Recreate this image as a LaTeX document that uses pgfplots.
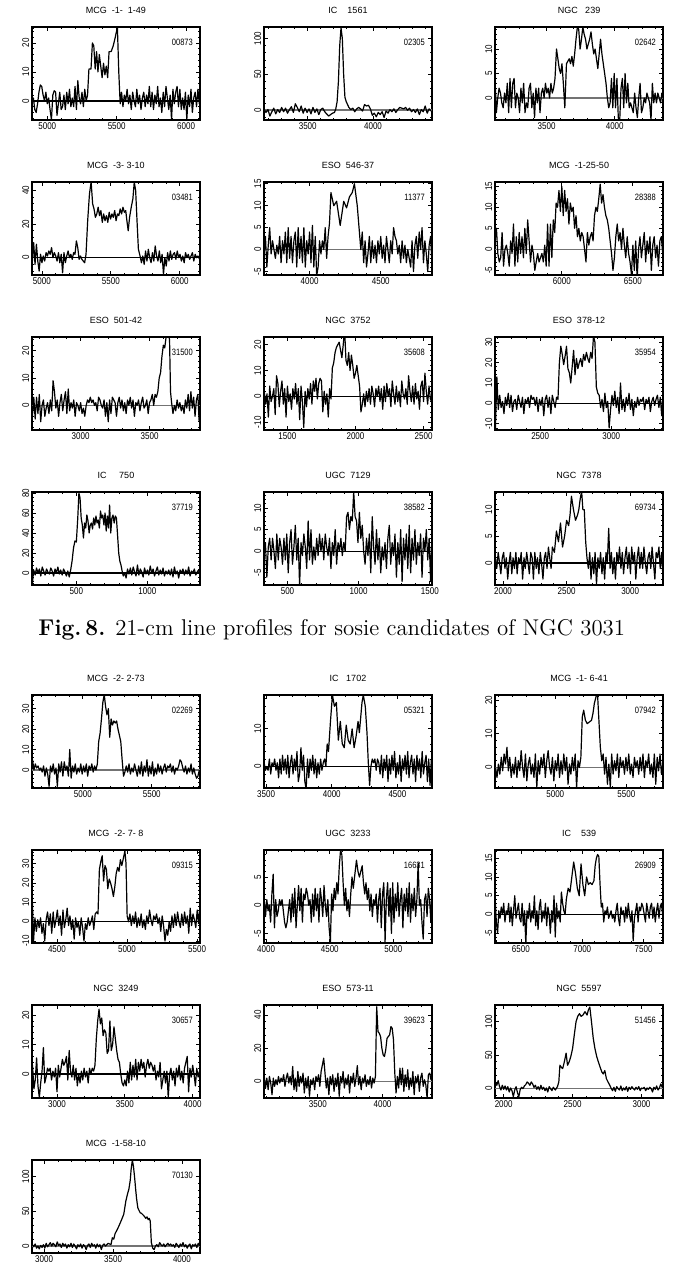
\documentclass[border=0pt]{standalone}
\usepackage{fontspec}
\usepackage{pgfplots}
\pgfplotsset{compat=1.18}
\newfontfamily\pg{Liberation Sans}
\newfontfamily\pgn[FakeStretch=0.82]{Liberation Sans}
\newcommand\pgsize{\pg\fontsize{4.5}{5}\selectfont}
\newcommand\pgnsize{\pgn\fontsize{4.9}{5.5}\selectfont}
\pgfplotsset{
  prof/.style={
    scale only axis, width=84pt, height=46.5pt, anchor=north west,
    axis line style={line width=0.9pt},
    tick style={line width=0.4pt, black},
    major tick length=2.2pt, minor tick length=1.1pt,
    tick align=inside, xtick pos=both, ytick pos=both,
    xtick distance=500, minor x tick num=4, minor y tick num=4,
    scaled ticks=false,
    /pgf/number format/assume math mode=true,
    /pgf/number format/1000 sep={},
    ticklabel style={font=\pgnsize},
    xticklabel style={inner sep=1.2pt},
    yticklabel style={rotate=90, anchor=south, inner sep=1.2pt},
    every axis title/.style={at={(0.5,1)}, anchor=center, yshift=8.5pt, font=\pgsize},
    clip=true,
  },
  sig/.style={black, line width=0.6pt, line join=round, mark=none},
  zk/.style={black, line width=0.7pt, mark=none},
  zg/.style={black!55, line width=0.8pt, mark=none},
}
\tikzset{pn/.style={font=\pgn\fontsize{4.6}{5}\selectfont, anchor=east, inner sep=0pt}}
\newcommand\pnum[1]{\node[pn] at (rel axis cs:0.96,0.83) {#1};}
\begin{document}
\begin{tikzpicture}
\useasboundingbox (0,0) rectangle (340pt,-631pt);

% ---------------- Fig. 8, row 1
\begin{axis}[prof, at={(16pt,-13.5pt)}, xmin=4890, xmax=6100, ymin=-6.6, ymax=25.5, ytick distance=10,
  title={MCG\ \ -1-\ \ 1-49}]
\addplot[zk] coordinates {(4890,0)(6100,0)};
\addplot[sig] coordinates {(4890,-1)(4900,1)(4910,-3)(4920,-4)(4930,-1)(4940,3)(4950,5.5)(4960,5)(4970,2)(4980,0)(4990,3)(5000,-1)(5010,1)(5020,-3)(5030,-6.5)(5040,2)(5050,3.5)(5060,3)(5070,-5)(5080,-1)(5090,3)(5100,-3)(5110,-2)(5120,2)(5130,-3)(5140,3)(5150,-1)(5160,4)(5170,-2)(5180,1)(5190,-2)(5200,5)(5210,-3)(5220,7)(5230,1)(5240,-1)(5250,3)(5260,-2)(5270,4)(5280,0)(5290,2)(5300,11)(5315,11)(5325,20)(5335,19)(5345,11)(5355,17)(5365,10)(5375,16)(5385,12)(5395,8)(5405,13)(5415,9)(5425,12)(5435,8)(5445,17)(5460,17)(5475,19)(5490,22)(5505,25.5)(5515,10)(5525,-1)(5535,3)(5545,-2)(5555,2)(5565,0)(5575,4)(5585,-1)(5595,2)(5605,-3)(5615,3)(5625,0)(5635,-2)(5645,4)(5655,-1)(5665,2)(5675,-3)(5685,1)(5695,3)(5705,-2)(5715,2)(5725,-1)(5735,5)(5745,-2)(5755,3)(5765,-3)(5775,2)(5785,-1)(5795,5)(5805,-2)(5815,1)(5825,-4)(5835,3)(5845,-2)(5855,5)(5865,1)(5875,-3)(5885,2)(5895,-6.5)(5905,4)(5915,-1)(5925,3)(5935,5)(5945,-2)(5955,4)(5965,-3)(5975,1)(5985,-3)(5995,3)(6005,-6.5)(6015,2)(6025,-2)(6035,4)(6045,-4)(6055,1)(6065,3)(6075,-2)(6085,4)(6095,-1)};
\pnum{00873}
\end{axis}

\begin{axis}[prof, at={(132pt,-13.5pt)}, xmin=3165, xmax=4452, ymin=-13.5, ymax=116, ytick distance=50,
  title={IC\ \ \ \ 1561}]
\addplot[zg] coordinates {(3165,0)(4452,0)};
\addplot[sig] coordinates {(3165,2)(3180,-3)(3195,1)(3210,-8)(3225,-2)(3240,3)(3255,-5)(3270,1)(3285,-3)(3300,4)(3315,-2)(3330,3)(3345,-4)(3360,1)(3375,5)(3390,-3)(3405,9)(3420,4)(3435,-2)(3450,6)(3465,-4)(3480,3)(3495,-3)(3510,2)(3525,-5)(3540,4)(3555,-3)(3570,2)(3585,-6)(3600,1)(3615,3)(3630,-2)(3645,-5)(3660,-8)(3675,-6)(3690,-4)(3705,-3)(3715,2)(3725,12)(3735,40)(3745,90)(3755,115)(3765,100)(3775,50)(3785,18)(3795,12)(3805,8)(3815,4)(3830,1)(3845,3)(3860,-2)(3875,2)(3890,4)(3905,2)(3920,-1)(3935,8)(3950,6)(3965,7)(3980,2)(3995,-7)(4010,-4)(4025,-9)(4040,-3)(4055,-6)(4070,-2)(4085,-10)(4100,-1)(4115,-4)(4130,1)(4145,-2)(4160,2)(4175,-3)(4190,1)(4205,4)(4220,3)(4235,2)(4250,4)(4265,0)(4280,3)(4295,-2)(4310,1)(4325,-3)(4340,2)(4355,-6)(4370,1)(4385,-2)(4400,6)(4415,-4)(4430,2)(4445,-1)};
\pnum{02305}
\end{axis}

\begin{axis}[prof, at={(247.5pt,-13.5pt)}, xmin=3122, xmax=4354, ymin=-4.5, ymax=14.5, ytick distance=5,
  title={NGC\ \ \ 239}]
\addplot[zg] coordinates {(3122,0)(4354,0)};
\addplot[sig] coordinates {(3122,4)(3132,-3)(3142,0)(3152,2)(3162,1)(3172,-1)(3182,-2)(3192,1)(3202,-1)(3212,3)(3222,-3)(3232,4)(3242,-2)(3252,3)(3262,4)(3272,-2)(3282,1)(3292,0)(3302,-3)(3312,2)(3322,-1)(3332,3)(3342,-3)(3352,-1)(3362,-2)(3372,2)(3382,3)(3392,-2)(3402,1)(3412,-4)(3422,2)(3432,-1)(3442,2)(3452,-3)(3462,1)(3472,2)(3482,0)(3492,3)(3502,1)(3512,2)(3522,0)(3532,3)(3542,1)(3552,2)(3562,4)(3573,10)(3583,8)(3593,6)(3603,5)(3613,7)(3623,3)(3634,-2)(3646,7)(3656,7.5)(3666,8)(3676,7)(3686,8.5)(3696,6.5)(3706,9)(3716,12)(3726,14.5)(3736,14)(3746,10)(3756,12)(3766,14.5)(3776,13)(3786,12)(3796,10)(3806,11)(3816,12)(3826,13.5)(3836,11)(3846,9)(3856,10)(3866,8)(3876,6)(3886,9)(3896,12)(3906,9)(3916,7)(3926,5)(3936,3)(3946,0)(3956,-2)(3966,-1)(3976,4)(3986,-2)(3996,5)(4006,-2)(4016,4)(4026,-4)(4036,-5)(4046,2)(4056,4)(4066,-2)(4076,5)(4086,-1)(4096,3)(4106,-2)(4116,-1)(4126,-2)(4136,-3)(4146,1)(4156,-2)(4166,-4)(4176,0)(4186,3)(4196,-3)(4206,-2)(4216,0)(4226,-1)(4236,1)(4246,0)(4256,-1)(4266,-4.5)(4276,3)(4286,-1)(4296,1)(4306,-1)(4316,1)(4326,0)(4336,-1)(4346,1)(4354,0)};
\pnum{02642}
\end{axis}

% ---------------- Fig. 8, row 2
\begin{axis}[prof, at={(16pt,-91pt)}, xmin=4928, xmax=6147, ymin=-10.3, ymax=45, ytick distance=20,
  title={MCG\ \ -3-\ 3-10}]
\addplot[zk] coordinates {(4928,0)(6147,0)};
\addplot[sig] coordinates {(4930,-3)(4940,9)(4950,-4)(4960,8)(4970,-2)(4980,-8)(4990,2)(5000,-3)(5010,1)(5020,-2)(5030,3)(5040,1)(5050,4)(5060,2)(5070,6)(5080,0)(5090,3)(5100,1)(5110,-2)(5120,3)(5130,-3)(5140,2)(5150,-9)(5160,3)(5170,-3)(5180,1)(5190,4)(5200,0)(5210,2)(5220,-1)(5230,3)(5240,2)(5250,10)(5260,6)(5270,-1)(5280,1)(5290,-1)(5300,-2)(5310,-3)(5320,2)(5332,22)(5345,38)(5357,45)(5368,32)(5378,29)(5388,24)(5398,26)(5408,30)(5418,25)(5428,28)(5438,21)(5448,26)(5458,22)(5468,25)(5478,21)(5488,27)(5498,23)(5508,26)(5518,24)(5528,28)(5538,22)(5548,26)(5558,25)(5568,29)(5578,26)(5588,30)(5598,27)(5608,28)(5618,21)(5626,16)(5636,24)(5648,30)(5660,35)(5670,45)(5680,40)(5690,22)(5700,5)(5712,1)(5722,-3)(5732,1)(5742,-4)(5752,4)(5762,-2)(5772,5)(5782,0)(5792,-3)(5802,3)(5812,-2)(5822,7)(5832,1)(5842,-2)(5852,4)(5862,-3)(5872,2)(5882,-10)(5892,0)(5902,-5)(5912,3)(5922,-2)(5932,4)(5942,-1)(5952,2)(5962,3)(5972,-1)(5982,4)(5992,0)(6002,2)(6012,-2)(6022,1)(6032,-3)(6042,3)(6052,0)(6062,2)(6072,-1)(6082,1)(6092,3)(6102,-2)(6112,2)(6122,0)(6132,1)(6145,-1)};
\pnum{03481}
\end{axis}

\begin{axis}[prof, at={(132pt,-91pt)}, xmin=3680, xmax=4860, ymin=-5.8, ymax=15.4, ytick distance=5,
  title={ESO\ \ 546-37}]
\addplot[zg] coordinates {(3680,0)(4860,0)};
\addplot[sig] coordinates {(3680,-1)(3690,3)(3700,-4)(3710,1)(3720,5)(3730,-1)(3740,2)(3750,0)(3760,-2)(3770,1)(3780,-1)(3790,3)(3800,-3)(3810,2)(3820,-1)(3830,4)(3840,-3)(3850,5)(3860,-2)(3870,3)(3880,-3)(3890,2)(3900,4)(3910,-4)(3920,5)(3930,-2)(3940,3)(3950,-3)(3960,5)(3970,-4)(3980,2)(3990,-1)(4000,4)(4010,-3)(4020,5.5)(4030,-4)(4040,3)(4050,-6)(4060,-4)(4070,2)(4080,-1)(4090,2)(4100,0)(4110,5)(4120,-2)(4130,3)(4140,6)(4150,13)(4170,10)(4190,11)(4215,5.5)(4240,11)(4260,9.5)(4280,12)(4300,13)(4315,15)(4335,10)(4360,0)(4370,4)(4380,-3)(4390,2)(4400,-4)(4410,-1)(4420,3)(4430,-3)(4440,2)(4450,-2)(4460,1)(4470,-3)(4480,2)(4490,-1)(4500,3)(4510,-2)(4520,1)(4530,-3)(4540,3)(4550,0)(4560,-3)(4570,2)(4580,-1)(4590,5)(4600,3)(4610,2)(4620,-1)(4630,1)(4640,-3)(4650,2)(4660,-2)(4670,1)(4680,-3)(4690,0)(4700,-2)(4710,-4)(4720,2)(4730,-5)(4740,1)(4750,3)(4760,-2)(4770,4)(4780,0)(4790,5)(4800,-3)(4810,2)(4820,-1)(4830,-5)(4840,1)(4850,3)(4858,-2)};
\pnum{11377}
\end{axis}

\begin{axis}[prof, at={(247.5pt,-91pt)}, xmin=5530, xmax=6712, ymin=-6.1, ymax=16, ytick distance=5,
  title={MCG\ \ -1-25-50}]
\addplot[zg] coordinates {(5530,0)(6712,0)};
\addplot[sig] coordinates {(5530,2)(5540,5)(5550,-1)(5560,-3)(5570,-2)(5580,4)(5590,-4)(5600,0)(5610,1)(5620,-1)(5630,-4)(5640,2)(5650,-1)(5660,6)(5670,-4)(5680,3)(5690,-3)(5700,4)(5710,-1)(5720,3)(5730,-2)(5740,5)(5750,-1)(5760,7)(5770,2)(5780,-3)(5790,1)(5800,-1)(5810,-5)(5820,-3)(5830,-1)(5840,-3)(5850,-2)(5860,-1)(5870,-3)(5880,1)(5890,-4)(5900,6)(5910,-4)(5920,6)(5930,-2)(5940,7)(5950,4)(5960,11)(5970,10)(5980,14)(5990,9)(6000,15)(6010,8)(6020,14)(6030,9)(6040,12)(6050,6)(6060,11)(6070,9)(6080,10)(6090,5)(6100,8)(6110,3)(6120,5)(6130,2)(6140,4)(6150,3)(6160,0)(6170,-3)(6180,4)(6190,1)(6200,3)(6210,4)(6220,2)(6230,8)(6240,10)(6250,9)(6260,12)(6270,15.5)(6280,11)(6290,13)(6300,10)(6310,8)(6320,7)(6330,5)(6340,2)(6350,-1)(6360,-5)(6370,-2)(6380,3)(6390,6)(6400,2)(6410,4)(6420,0)(6430,5)(6440,1)(6450,-2)(6460,3)(6470,-1)(6480,-3)(6490,-6)(6500,1)(6510,-5)(6520,2)(6530,-7)(6540,0)(6550,3)(6560,-2)(6570,1)(6580,4)(6590,-3)(6600,2)(6610,-1)(6620,3)(6630,-5)(6640,1)(6650,3)(6660,-2)(6670,1)(6680,-4)(6690,2)(6700,3)(6710,-1)};
\pnum{28388}
\end{axis}

% ---------------- Fig. 8, row 3
\begin{axis}[prof, at={(16pt,-168.5pt)}, xmin=2647, xmax=3866, ymin=-9, ymax=25, ytick distance=10,
  title={ESO\ \ 501-42}]
\addplot[zg] coordinates {(2647,0)(3866,0)};
\addplot[sig] coordinates {(2650,-4)(2660,3)(2670,-5)(2680,3)(2690,-3)(2700,4)(2710,-6)(2720,0)(2730,2)(2740,-4)(2750,-1)(2760,1)(2770,-3)(2780,2)(2790,-2)(2800,9)(2810,5)(2820,-1)(2830,2)(2840,-4)(2850,1)(2860,4)(2870,-2)(2880,2)(2890,5)(2900,-3)(2910,6)(2920,-2)(2930,1)(2940,-1)(2950,2)(2960,-4)(2970,1)(2980,0)(2990,-2)(3000,1)(3010,-3)(3020,-1)(3030,-4)(3040,0)(3050,2)(3060,1)(3070,3)(3080,1)(3090,2)(3100,0)(3110,1)(3120,-2)(3130,3)(3140,2)(3150,0)(3160,-1)(3170,2)(3180,-4)(3190,1)(3200,-6)(3210,2)(3220,-3)(3230,3)(3240,2)(3250,1)(3260,-4)(3270,1)(3280,3)(3290,-1)(3300,2)(3310,-2)(3320,1)(3330,-3)(3340,2)(3350,0)(3360,3)(3370,-1)(3380,2)(3390,-4)(3400,1)(3410,0)(3420,2)(3430,-2)(3440,1)(3450,3)(3460,-1)(3470,0)(3480,2)(3490,-3)(3500,1)(3510,2)(3520,4)(3530,0)(3540,4)(3550,3)(3560,5)(3570,10)(3580,12)(3590,18)(3600,22)(3610,21)(3620,25)(3630,25.5)(3638,26)(3645,24)(3652,5)(3660,1)(3670,-3)(3680,0)(3690,-2)(3700,2)(3710,-1)(3720,1)(3730,-2)(3740,0)(3750,-3)(3760,2)(3770,-1)(3780,4)(3790,-2)(3800,5)(3810,-1)(3820,3)(3830,-4)(3840,2)(3850,4)(3860,-6)};
\pnum{31500}
\end{axis}

\begin{axis}[prof, at={(132pt,-168.5pt)}, xmin=1328, xmax=2562, ymin=-13, ymax=23, ytick distance=10,
  title={NGC\ \ 3752}]
\addplot[zk] coordinates {(1328,0)(2562,0)};
\addplot[sig] coordinates {(1330,2)(1340,-3)(1350,1)(1360,-8)(1370,4)(1380,-2)(1390,0)(1400,3)(1410,-7)(1420,8)(1430,5)(1440,-4)(1450,2)(1460,6)(1470,-3)(1480,3)(1490,-8)(1500,4)(1510,-2)(1520,1)(1530,-5)(1540,3)(1550,-1)(1560,5)(1570,-3)(1580,3)(1590,-9)(1600,4)(1610,-2)(1620,-12)(1630,2)(1640,-4)(1650,3)(1660,-1)(1670,5)(1680,-3)(1690,6)(1700,2)(1710,7)(1720,-1)(1730,5)(1740,7)(1750,6)(1760,-6)(1770,2)(1780,-3)(1790,1)(1800,-8)(1810,3)(1820,-1)(1830,11)(1840,13)(1850,17)(1860,19)(1870,20)(1880,21)(1890,18)(1900,15)(1910,20)(1920,26)(1930,14)(1940,12)(1950,17)(1960,10)(1970,16)(1980,12)(1990,7)(2000,9)(2010,12)(2020,8)(2030,4)(2040,-6)(2050,-3)(2060,1)(2070,-4)(2080,2)(2090,-2)(2100,3)(2110,-3)(2120,4)(2130,1)(2140,-4)(2150,3)(2160,0)(2170,4)(2180,-2)(2190,3)(2200,-5)(2210,4)(2220,-2)(2230,5)(2240,0)(2250,3)(2260,-4)(2270,6)(2280,1)(2290,-3)(2300,4)(2310,-2)(2320,2)(2330,-4)(2340,6)(2350,1)(2360,-1)(2370,3)(2380,-3)(2390,8)(2400,2)(2410,-2)(2420,4)(2430,-3)(2440,5)(2450,-1)(2460,2)(2470,-5)(2480,4)(2490,6)(2500,-2)(2510,9)(2520,2)(2530,-3)(2540,4)(2550,-1)(2560,-2)};
\pnum{35608}
\end{axis}

\begin{axis}[prof, at={(247.5pt,-168.5pt)}, xmin=2182, xmax=3364, ymin=-13, ymax=32.5, ytick distance=10,
  title={ESO\ \ 378-12}]
\addplot[zk] coordinates {(2182,0)(3364,0)};
\addplot[sig] coordinates {(2185,-12)(2195,13)(2205,-3)(2215,4)(2225,-2)(2235,1)(2245,-5)(2255,3)(2265,-1)(2275,5)(2285,-2)(2295,4)(2305,-4)(2315,1)(2325,2)(2335,-3)(2345,4)(2355,1)(2365,-2)(2375,3)(2385,-5)(2395,2)(2405,0)(2415,3)(2425,-2)(2435,4)(2445,2)(2455,3)(2465,-1)(2475,3)(2485,-4)(2495,2)(2505,-1)(2515,3)(2525,-6)(2535,2)(2545,4)(2555,-2)(2565,3)(2575,-5)(2585,4)(2595,1)(2605,-2)(2615,3)(2625,2)(2635,20)(2645,28)(2655,24)(2665,19)(2675,23)(2685,28)(2695,17)(2705,15)(2715,10)(2725,18)(2735,26)(2745,14)(2755,22)(2765,17)(2775,20)(2785,22)(2795,18)(2805,24)(2815,21)(2825,25)(2835,22)(2845,20)(2855,25)(2865,22)(2875,33)(2885,30)(2895,8)(2905,5)(2915,4)(2925,-2)(2935,2)(2945,-4)(2955,5)(2965,-2)(2975,1)(2985,-12)(2995,-3)(3005,4)(3015,-1)(3025,6)(3035,-2)(3045,3)(3055,-5)(3065,10)(3075,-3)(3085,2)(3095,-4)(3105,3)(3115,-1)(3125,5)(3135,-3)(3145,2)(3155,-6)(3165,1)(3175,-2)(3185,3)(3195,-1)(3205,2)(3215,1)(3225,3)(3235,-3)(3245,2)(3255,0)(3265,3)(3275,-4)(3285,1)(3295,3)(3305,-1)(3315,2)(3325,4)(3335,-2)(3345,3)(3355,-6)(3362,2)};
\pnum{35954}
\end{axis}

% ---------------- Fig. 8, row 4
\begin{axis}[prof, at={(16pt,-246pt)}, xmin=188, xmax=1370, ymin=-12, ymax=81, ytick distance=20,
  title={IC\ \ \ \ \ 750}]
\addplot[zk] coordinates {(188,0)(1370,0)};
\addplot[sig] coordinates {(190,-12)(200,3)(210,-2)(220,5)(230,0)(240,4)(250,-3)(260,6)(270,2)(280,-2)(290,4)(300,1)(310,-1)(320,5)(330,2)(340,-3)(350,4)(360,0)(370,6)(380,-1)(390,3)(400,-2)(410,4)(420,1)(430,-3)(440,2)(450,-4)(460,3)(470,12)(480,25)(490,32)(500,31)(510,55)(518,80)(526,75)(534,55)(542,48)(550,35)(558,50)(566,45)(574,58)(582,52)(590,40)(598,48)(606,50)(614,44)(622,55)(630,48)(638,57)(646,50)(654,53)(662,45)(670,62)(678,55)(686,58)(694,48)(702,60)(710,42)(718,57)(726,45)(734,68)(742,40)(750,55)(758,58)(766,50)(774,57)(782,55)(790,38)(798,20)(806,12)(814,8)(822,2)(830,-3)(840,0)(850,-5)(860,4)(870,-1)(880,5)(890,-2)(900,6)(910,1)(920,-3)(930,8)(940,-2)(950,4)(960,1)(970,-4)(980,5)(990,-1)(1000,3)(1010,-2)(1020,7)(1030,0)(1040,4)(1050,-3)(1060,2)(1070,6)(1080,-2)(1090,3)(1100,-1)(1110,5)(1120,-3)(1130,2)(1140,-1)(1150,3)(1160,-2)(1170,4)(1180,-4)(1190,6)(1200,-1)(1210,2)(1220,-5)(1230,3)(1240,0)(1250,4)(1260,-2)(1270,3)(1280,-1)(1290,6)(1300,-3)(1310,2)(1320,0)(1330,4)(1340,-2)(1350,1)(1360,3)(1368,0)};
\pnum{37719}
\end{axis}

\begin{axis}[prof, at={(132pt,-246pt)}, xmin=335, xmax=1515, ymin=-7.8, ymax=13.7, ytick distance=5,
  title={UGC\ \ 7129}]
\addplot[zk] coordinates {(335,0)(1515,0)};
\addplot[sig] coordinates {(335,-1)(345,2)(355,-6)(365,1)(375,3)(385,-2)(395,3)(405,0)(415,-4)(425,4)(435,-2)(445,3)(455,1)(465,-3)(475,3)(485,-2)(495,4)(505,-5)(515,2)(525,5)(535,-3)(545,1)(555,6)(565,-2)(575,3)(585,-8)(595,2)(605,-1)(615,4)(625,1)(635,-4)(645,7)(655,-2)(665,5)(675,-3)(685,1)(695,-2)(705,3)(715,-1)(725,4)(735,0)(745,3)(755,-2)(765,4)(775,1)(785,-1)(795,3)(805,-4)(815,2)(825,-1)(835,5)(845,-3)(855,2)(865,0)(875,3)(885,-1)(895,2)(905,0)(915,8)(925,9)(935,5)(945,8)(955,7)(965,13.7)(975,8)(985,7)(995,2)(1005,9)(1015,3)(1025,6)(1035,0)(1045,-3)(1055,3)(1065,-1)(1075,4)(1085,-5)(1095,8)(1105,1)(1115,-3)(1125,5)(1135,-2)(1145,3)(1155,-5)(1165,1)(1175,-2)(1185,2)(1195,-4)(1205,3)(1215,6)(1225,-3)(1235,2)(1245,-1)(1255,4)(1265,-6)(1275,2)(1285,-3)(1295,5)(1305,-7)(1315,3)(1325,-2)(1335,4)(1345,-4)(1355,6)(1365,-5)(1375,3)(1385,-2)(1395,5)(1405,-3)(1415,2)(1425,-1)(1435,4)(1445,-6)(1455,3)(1465,0)(1475,5)(1485,-2)(1495,3)(1505,-7)(1513,2)};
\pnum{38582}
\end{axis}

\begin{axis}[prof, at={(247.5pt,-246pt)}, xmin=1937, xmax=3258, ymin=-4.1, ymax=13.3, ytick distance=5,
  title={NGC\ \ 7378}]
\addplot[zk] coordinates {(1937,0)(3258,0)};
\addplot[sig] coordinates {(1940,1)(1951,-1)(1962,2)(1973,0)(1983,-2)(1994,1)(2005,2)(2015,-1)(2026,1)(2037,-3)(2047,0)(2058,2)(2069,-2)(2079,1)(2090,-1)(2101,2)(2111,-2)(2122,1)(2133,0)(2143,2)(2154,-3)(2165,1)(2175,-1)(2186,2)(2197,0)(2207,-2)(2218,2)(2229,1)(2239,-3)(2250,2)(2261,-1)(2271,1)(2282,-2)(2293,2)(2303,0)(2314,-3)(2325,1)(2335,2)(2346,-1)(2357,3)(2367,1)(2378,-1)(2388,3)(2404,2)(2420,6)(2436,4)(2452,7.5)(2468,3)(2484,5)(2500,8)(2516,7)(2527,9)(2538,12.5)(2554,10)(2570,8)(2586,9)(2596,10)(2607,12)(2618,13.5)(2628,10)(2639,10)(2650,4)(2660,1)(2671,-1)(2682,2)(2692,-3)(2703,1)(2714,-2)(2724,2)(2735,-4)(2746,1)(2756,-1)(2767,2)(2778,-2)(2788,1)(2799,-3)(2810,2)(2820,0)(2831,6.5)(2842,-1)(2852,2)(2863,-2)(2874,1)(2884,-3)(2895,2)(2906,0)(2916,3)(2927,-1)(2938,2)(2948,-2)(2959,1)(2970,3)(2980,-1)(2991,2)(3002,-2)(3012,3)(3023,0)(3034,2)(3044,-3)(3055,1)(3066,3)(3076,-1)(3087,2)(3098,-1)(3108,3)(3119,0)(3130,-2)(3140,1)(3151,2)(3162,-1)(3172,3)(3183,0)(3194,-3)(3204,2)(3215,1)(3226,3)(3236,-1)(3247,2)(3256,-2)};
\pnum{69734}
\end{axis}

\node[anchor=base west, inner sep=0pt, font=\fontsize{11.4}{13}\selectfont] at (19pt,-317.5pt)
  {\textbf{Fig.\,8.} 21-cm line profiles for sosie candidates of NGC 3031};

% ---------------- second figure, row 1
\begin{axis}[prof, at={(16pt,-347.5pt)}, xmin=4631, xmax=5850, ymin=-8.8, ymax=36.7, ytick distance=10,
  title={MCG\ \ -2-\ 2-73}]
\addplot[zg] coordinates {(4631,0)(5850,0)};
\addplot[sig] coordinates {(4635,5)(4645,0)(4655,3)(4665,1)(4675,2)(4685,0)(4695,1)(4705,-1)(4715,2)(4725,-3)(4735,1)(4745,-2)(4755,-8)(4765,2)(4775,-1)(4785,3)(4795,-2)(4805,1)(4815,-8)(4825,3)(4835,-1)(4845,4)(4855,-3)(4865,4)(4875,0)(4885,2)(4895,-3)(4905,10)(4915,-4)(4925,2)(4935,-1)(4945,3)(4955,-2)(4965,1)(4975,-1)(4985,3)(4995,-2)(5005,2)(5015,-1)(5025,3)(5035,-3)(5045,2)(5055,0)(5065,3)(5075,-1)(5085,2)(5095,0)(5105,3)(5115,14)(5125,18)(5135,25)(5145,33)(5155,37)(5165,31)(5175,27)(5185,30)(5195,16)(5205,25)(5215,22)(5225,24)(5235,23)(5245,24)(5255,20)(5265,17)(5275,14)(5285,5)(5295,-3)(5305,-1)(5315,2)(5325,-1)(5335,3)(5345,-2)(5355,1)(5365,-1)(5375,3)(5385,0)(5395,-3)(5405,2)(5415,-2)(5425,4)(5435,-3)(5445,2)(5455,-1)(5465,5)(5475,-3)(5485,2)(5495,-2)(5505,4)(5515,-3)(5525,1)(5535,-2)(5545,3)(5555,-1)(5565,2)(5575,-2)(5585,1)(5595,3)(5605,-1)(5615,2)(5625,1)(5635,3)(5645,-1)(5655,2)(5665,-2)(5675,1)(5685,0)(5695,2)(5705,5)(5715,4)(5725,1)(5735,-1)(5745,2)(5755,-2)(5765,1)(5775,-1)(5785,3)(5795,-2)(5805,1)(5815,-2)(5825,-4)(5835,-3)(5845,0)};
\pnum{02269}
\end{axis}

\begin{axis}[prof, at={(132pt,-347.5pt)}, xmin=3484, xmax=4763, ymin=-5.7, ymax=19, ytick distance=10,
  title={IC\ \ \ 1702}]
\addplot[zk] coordinates {(3484,0)(4763,0)};
\addplot[sig] coordinates {(3485,1)(3495,-1)(3505,0)(3515,-1)(3525,2)(3535,-2)(3545,1)(3555,0)(3565,2)(3575,-1)(3585,1)(3595,-3)(3605,2)(3615,-2)(3625,3)(3635,-1)(3645,2)(3655,-2)(3665,3)(3675,-3)(3685,1)(3695,3)(3705,-2)(3715,2)(3725,-1)(3735,4)(3745,-4)(3755,-2)(3765,5)(3775,-1)(3785,3)(3795,-4)(3805,-6)(3815,2)(3825,-3)(3835,2)(3845,-1)(3855,3)(3865,-2)(3875,2)(3885,-3)(3895,1)(3905,-2)(3915,2)(3925,-1)(3935,1)(3945,2)(3955,0)(3965,6)(3975,4)(3990,12)(4005,19)(4020,16)(4035,17)(4050,7)(4065,12)(4080,6)(4095,5)(4110,11)(4125,7)(4140,6)(4155,10)(4170,5)(4185,8)(4200,12)(4210,9)(4220,13)(4230,17)(4240,19)(4255,16)(4268,9)(4278,1)(4288,-5)(4298,0)(4308,2)(4318,1)(4328,2)(4338,-1)(4348,2)(4358,1)(4368,-2)(4378,3)(4388,-3)(4398,2)(4408,-1)(4418,3)(4428,-4)(4438,2)(4448,-2)(4458,3)(4468,-1)(4478,4)(4488,-3)(4498,1)(4508,-2)(4518,3)(4528,-4)(4538,2)(4548,-1)(4558,3)(4568,-2)(4578,4)(4588,-3)(4598,1)(4608,3)(4618,-2)(4628,2)(4638,-4)(4648,3)(4658,-1)(4668,2)(4678,-3)(4688,4)(4698,-2)(4708,1)(4718,3)(4728,-4)(4738,2)(4748,-5)(4758,2)};
\pnum{05321}
\end{axis}

\begin{axis}[prof, at={(247.5pt,-347.5pt)}, xmin=4576, xmax=5758, ymin=-6.1, ymax=21.5, ytick distance=10,
  title={MCG\ \ -1-\ 6-41}]
\addplot[zg] coordinates {(4576,0)(5758,0)};
\addplot[sig] coordinates {(4580,0)(4590,-3)(4600,1)(4610,-2)(4620,3)(4630,-1)(4640,4)(4650,1)(4660,6)(4670,-1)(4680,3)(4690,-3)(4700,1)(4710,-2)(4720,3)(4730,-3)(4740,2)(4750,-1)(4760,5)(4770,0)(4780,-3)(4790,4)(4800,-4)(4810,1)(4820,3)(4830,-2)(4840,1)(4850,-3)(4860,4)(4870,-6)(4880,2)(4890,-2)(4900,3)(4910,0)(4920,4)(4930,-3)(4940,2)(4950,5)(4960,0)(4970,-2)(4980,3)(4990,-4)(5000,2)(5010,-1)(5020,4)(5030,-3)(5040,2)(5050,-2)(5060,4)(5070,-1)(5080,3)(5090,-5)(5100,1)(5110,-2)(5120,3)(5130,-1)(5140,4)(5150,-6)(5160,2)(5170,0)(5180,3)(5190,15)(5200,17)(5212,14)(5225,13)(5240,13.5)(5255,14)(5265,16)(5275,19)(5287,21)(5297,22)(5307,14)(5317,6)(5327,2)(5337,4)(5347,-2)(5357,3)(5367,-5)(5377,1)(5387,-6)(5397,4)(5407,-2)(5417,2)(5427,-1)(5437,4)(5447,-3)(5457,3)(5467,0)(5477,2)(5487,-2)(5497,3)(5507,-1)(5517,4)(5527,-2)(5537,1)(5547,-3)(5557,3)(5567,0)(5577,2)(5587,-2)(5597,3)(5607,-1)(5617,4)(5627,-3)(5637,2)(5647,0)(5657,4)(5667,-2)(5677,1)(5687,-3)(5697,4)(5707,-5)(5717,3)(5727,-1)(5737,4)(5747,-2)(5756,1)};
\pnum{07942}
\end{axis}

% ---------------- second figure, row 2
\begin{axis}[prof, at={(16pt,-425pt)}, xmin=4322, xmax=5521, ymin=-11, ymax=37, ytick distance=10,
  title={MCG\ \ -2-\ 7-\ 8}]
\addplot[zk] coordinates {(4322,0)(5521,0)};
\addplot[sig] coordinates {(4325,10)(4333,-10)(4343,2)(4353,-5)(4363,1)(4373,-3)(4383,2)(4393,-6)(4403,-1)(4413,-10)(4423,1)(4433,5)(4443,-2)(4453,4)(4463,-6)(4473,5)(4483,-3)(4493,1)(4503,6)(4513,-2)(4523,3)(4533,-7)(4543,6)(4553,-3)(4563,1)(4573,7)(4583,-2)(4593,3)(4603,-4)(4613,1)(4623,-9)(4633,2)(4643,-3)(4653,0)(4663,-7)(4673,2)(4683,-3)(4693,-10)(4703,-1)(4713,-4)(4723,2)(4733,-2)(4743,0)(4753,3)(4763,-4)(4773,4)(4783,5)(4793,4)(4803,27)(4813,31)(4823,34)(4833,21)(4843,29)(4853,27)(4863,17)(4873,22)(4883,20)(4893,17)(4903,13)(4913,18)(4923,25)(4933,28)(4943,26)(4953,32)(4963,29)(4975,33)(4985,36.5)(4993,30)(5001,3)(5011,0)(5021,4)(5031,-2)(5041,3)(5051,-1)(5061,5)(5071,-3)(5081,2)(5091,-2)(5101,4)(5111,-3)(5121,1)(5131,-4)(5141,3)(5151,-1)(5161,6)(5171,1)(5181,-2)(5191,3)(5201,1)(5211,4)(5221,-1)(5231,2)(5241,-5)(5251,3)(5261,-2)(5271,-10)(5281,-4)(5291,-7)(5301,0)(5311,-5)(5321,3)(5331,-3)(5341,4)(5351,-2)(5361,5)(5371,0)(5381,-3)(5391,4)(5401,-2)(5411,5)(5421,-1)(5431,3)(5441,-6)(5451,7)(5461,-2)(5471,4)(5481,1)(5491,-3)(5501,6)(5511,-1)(5520,8)};
\pnum{09315}
\end{axis}

\begin{axis}[prof, at={(132pt,-425pt)}, xmin=3983, xmax=5304, ymin=-6.7, ymax=9.8, ytick distance=5,
  title={UGC\ \ 3233}]
\addplot[zg] coordinates {(3983,0)(5304,0)};
\addplot[sig] coordinates {(3985,1)(3995,-2)(4005,1)(4015,-1)(4025,0)(4035,-3)(4045,2)(4055,5.5)(4065,-4)(4075,1)(4085,-2)(4095,-1)(4105,1)(4115,0)(4125,1)(4135,-1)(4145,-3)(4155,-4)(4165,-3)(4175,-1)(4185,1)(4195,-3)(4205,2)(4215,-2)(4225,3)(4235,-4)(4245,0)(4255,3.5)(4265,-1)(4275,3)(4285,-3)(4295,2)(4305,1)(4315,3)(4325,2)(4335,0)(4345,1)(4355,-3)(4365,2)(4375,-2)(4385,3)(4395,-1)(4405,2)(4415,-3)(4425,3)(4435,1)(4445,-2)(4455,3.5)(4465,0)(4475,-2)(4485,1)(4495,-4)(4505,-6.5)(4515,2)(4525,-1)(4535,3)(4545,1)(4555,4)(4565,2)(4575,7)(4585,9.8)(4595,9)(4605,4)(4615,0)(4625,3)(4635,-1)(4645,1)(4655,-2)(4665,2)(4675,5)(4685,3)(4695,5)(4710,8)(4722,6)(4733,5)(4744,6)(4755,7)(4765,4)(4775,2)(4785,4)(4795,1)(4805,3)(4815,-1)(4825,2)(4835,-2)(4845,1)(4855,0)(4865,2)(4875,-3)(4885,1)(4895,3)(4905,-4)(4915,2)(4925,4)(4935,-6.5)(4945,1)(4955,4)(4965,-2)(4975,3)(4985,-5)(4995,4)(5005,-3)(5015,2)(5025,-1)(5035,4)(5045,-2)(5055,1)(5065,3)(5075,-4)(5085,2)(5095,-1)(5105,3)(5115,-2)(5125,4)(5135,-3)(5145,2)(5155,-1)(5165,3)(5175,-2)(5185,1)(5195,7.5)(5205,0)(5215,1)(5225,-3)(5235,-6)(5245,1)(5255,2)(5265,-2)(5275,3)(5285,1)(5295,-3)(5303,2)};
\pnum{16631}
\end{axis}

\begin{axis}[prof, at={(247.5pt,-425pt)}, xmin=6289, xmax=7658, ymin=-7.6, ymax=17.2, ytick distance=5,
  title={IC\ \ \ \ 539}]
\addplot[zk] coordinates {(6289,0)(7658,0)};
\addplot[sig] coordinates {(6290,4)(6300,-2)(6310,-5)(6320,1)(6330,-1)(6340,2)(6350,0)(6360,3)(6370,-2)(6380,1)(6390,0)(6400,3)(6410,-2)(6420,2)(6430,-3)(6440,1)(6450,5)(6460,-1)(6470,1)(6480,3)(6490,-1)(6500,-2)(6510,3)(6520,-3)(6530,1)(6540,-8)(6550,1)(6560,-1)(6570,3)(6580,-2)(6590,1)(6600,-1)(6610,5)(6620,-3)(6630,1)(6640,-4)(6650,2)(6660,4)(6670,-2)(6680,1)(6690,-1)(6700,3)(6710,-3)(6720,2)(6730,0)(6740,-5)(6750,1)(6760,-2)(6770,5)(6780,-6)(6790,3)(6800,-1)(6810,1)(6820,-2)(6830,6)(6840,3)(6850,1)(6860,0)(6870,4)(6885,7)(6900,6)(6915,10)(6930,14)(6945,11)(6960,7)(6975,5)(6990,13.5)(7005,8)(7020,5)(7035,10)(7050,8)(7065,8.5)(7080,8)(7095,9)(7105,13)(7115,15)(7125,16)(7135,15.5)(7145,8)(7155,2)(7165,3)(7175,-2)(7185,1)(7195,0)(7205,2)(7215,-1)(7225,0)(7235,1)(7245,-1)(7255,0)(7265,-2)(7275,1)(7285,3)(7295,-1)(7305,-3)(7315,2)(7325,0)(7335,1)(7345,-2)(7355,2)(7365,-1)(7375,3)(7385,0)(7395,-2)(7405,1)(7415,-7)(7425,-1)(7435,1)(7445,3)(7455,-2)(7465,2)(7475,1)(7485,3)(7495,2)(7505,0)(7515,-2)(7525,3)(7535,1)(7545,-1)(7555,2)(7565,3)(7575,-1)(7585,2)(7595,-2)(7605,1)(7615,3)(7625,-1)(7635,2)(7645,3)(7655,0)};
\pnum{26909}
\end{axis}

% ---------------- second figure, row 3
\begin{axis}[prof, at={(16pt,-502.5pt)}, xmin=2816, xmax=4054, ymin=-8.1, ymax=23.4, ytick distance=10,
  title={NGC\ \ 3249}]
\addplot[zk] coordinates {(2816,0)(4054,0)};
\addplot[sig] coordinates {(2820,3)(2830,-5)(2840,-2)(2850,5.5)(2860,-4)(2870,-8)(2880,-3)(2890,1)(2900,9)(2910,-3)(2920,-1)(2930,2)(2940,1)(2950,2)(2960,-2)(2970,1)(2980,-1)(2990,2)(3000,-6)(3010,3)(3020,-1)(3030,2)(3040,5)(3050,3)(3060,4)(3070,6)(3080,-2)(3090,8)(3100,1)(3110,-1)(3120,3)(3130,-2)(3140,2)(3150,-4)(3160,0)(3170,-3)(3180,1)(3190,-2)(3200,2)(3210,-1)(3220,1)(3230,-3)(3240,2)(3250,0)(3260,2)(3270,1)(3280,3)(3290,12)(3300,18)(3310,22)(3320,17)(3330,19)(3340,13)(3350,15)(3360,14)(3370,7)(3380,8)(3390,18)(3400,8)(3410,10)(3420,16)(3430,12)(3440,8)(3450,5)(3460,4)(3470,0)(3480,-3)(3490,-4)(3500,-2)(3510,-4)(3520,1)(3530,-3)(3540,4)(3550,-2)(3560,3)(3570,-1)(3580,5)(3590,-2)(3600,4)(3610,1)(3620,5)(3630,2)(3640,4)(3650,-1)(3660,3)(3670,5)(3680,2)(3690,4)(3700,3)(3710,1)(3720,3)(3730,-2)(3740,1)(3750,-1)(3760,4)(3770,-5)(3780,-2)(3790,1)(3800,-3)(3810,1)(3820,-8)(3830,0)(3840,2)(3850,-2)(3860,1)(3870,-4)(3880,2)(3890,-1)(3900,3)(3910,-2)(3920,1)(3930,-3)(3940,2)(3950,4)(3960,6)(3970,-6)(3980,2)(3990,-1)(4000,3)(4010,0)(4020,-4)(4030,2)(4040,-1)(4050,1)};
\pnum{30657}
\end{axis}

\begin{axis}[prof, at={(132pt,-502.5pt)}, xmin=3083, xmax=4383, ymin=-10, ymax=46, ytick distance=20,
  title={ESO\ \ 573-11}]
\addplot[zg] coordinates {(3083,0)(4383,0)};
\addplot[sig] coordinates {(3085,3)(3095,-4)(3105,2)(3115,-5)(3125,3)(3135,-1)(3145,-8)(3155,2)(3165,-3)(3175,1)(3185,-2)(3195,3)(3205,-1)(3215,2)(3225,0)(3235,4)(3245,-3)(3255,2)(3265,5)(3275,-1)(3285,3)(3295,-2)(3305,9)(3315,-5)(3325,2)(3335,-6)(3345,6)(3355,-3)(3365,3)(3375,-1)(3385,5)(3395,-7)(3405,2)(3415,-4)(3425,3)(3435,-9)(3445,1)(3455,-2)(3465,2)(3475,-5)(3485,3)(3495,0)(3505,4)(3515,-3)(3525,6)(3535,10)(3545,14)(3555,5)(3565,-4)(3575,2)(3585,-8)(3595,3)(3605,-2)(3615,4)(3625,-6)(3635,2)(3645,-3)(3655,5)(3665,-9)(3675,3)(3685,-1)(3695,6)(3705,-4)(3715,2)(3725,-2)(3735,4)(3745,-7)(3755,3)(3765,-1)(3775,5)(3785,-3)(3795,2)(3805,9.5)(3815,-2)(3825,3)(3835,-5)(3845,2)(3855,-1)(3865,4)(3875,-3)(3885,1)(3895,-2)(3905,3)(3915,-4)(3925,2)(3935,-1)(3945,3)(3955,45)(3965,30)(3975,29)(3985,27)(3995,20)(4005,16)(4015,15)(4025,19)(4035,26)(4045,27)(4055,28)(4065,33)(4075,32)(4085,25)(4095,5)(4105,-7)(4115,3)(4125,-4)(4135,8)(4145,-2)(4155,8)(4165,-6)(4175,4)(4185,-3)(4195,7)(4205,-5)(4215,2)(4225,-3)(4235,6)(4245,-8)(4255,3)(4265,-1)(4275,4)(4285,-6)(4295,2)(4305,5)(4315,-3)(4325,1)(4335,-2)(4345,-10)(4355,4)(4365,5)(4375,1)(4382,3)};
\pnum{39623}
\end{axis}

\begin{axis}[prof, at={(247.5pt,-502.5pt)}, xmin=1937, xmax=3156, ymin=-14, ymax=125, ytick distance=50,
  title={NGC\ \ 5597}]
\addplot[zg] coordinates {(1937,0)(3156,0)};
\addplot[sig] coordinates {(1940,10)(1950,5)(1960,12)(1970,3)(1980,-2)(1990,5)(2000,-1)(2010,4)(2020,-2)(2030,3)(2040,-5)(2050,1)(2060,-3)(2070,-12)(2080,-2)(2090,3)(2100,-6)(2110,-12)(2120,-1)(2130,2)(2140,0)(2150,4)(2160,6)(2170,10)(2180,8)(2190,5)(2200,10)(2210,7)(2220,2)(2230,5)(2240,-1)(2250,3)(2260,-2)(2270,5)(2280,-1)(2290,2)(2300,-3)(2310,1)(2320,-5)(2330,3)(2340,0)(2350,-3)(2360,2)(2375,-2)(2390,3)(2400,10)(2408,35)(2418,32)(2428,30)(2440,40)(2453,53)(2463,35)(2475,40)(2487,48)(2500,60)(2512,80)(2525,100)(2537,108)(2550,112)(2562,108)(2575,110)(2590,115)(2605,110)(2615,118)(2625,122)(2637,100)(2650,75)(2662,60)(2675,48)(2687,40)(2700,32)(2712,25)(2722,22)(2734,27)(2745,15)(2757,10)(2770,5)(2781,0)(2790,-3)(2800,2)(2810,-4)(2820,3)(2830,0)(2840,-2)(2850,4)(2860,-3)(2870,1)(2880,-2)(2890,3)(2900,-4)(2910,2)(2920,-1)(2930,3)(2940,0)(2950,-2)(2960,2)(2970,-1)(2980,3)(2990,-3)(3000,1)(3010,0)(3020,2)(3030,-3)(3040,1)(3050,-1)(3060,2)(3070,0)(3080,-5)(3090,2)(3100,-1)(3110,4)(3120,-2)(3130,1)(3140,7)(3150,2)(3155,5)};
\pnum{51456}
\end{axis}

% ---------------- second figure, row 4
\begin{axis}[prof, at={(16pt,-580pt)}, xmin=2912, xmax=4131, ymin=-10, ymax=124, ytick distance=50,
  title={MCG\ \ -1-58-10}]
\addplot[zg] coordinates {(2912,0)(4131,0)};
\addplot[sig] coordinates {(2915,2)(2925,-1)(2935,3)(2945,-3)(2955,0)(2965,-4)(2975,1)(2985,-2)(2995,2)(3005,-3)(3015,4)(3025,-1)(3035,2)(3045,5)(3055,0)(3065,4)(3075,2)(3085,-1)(3095,6)(3105,1)(3115,3)(3125,-2)(3135,4)(3145,0)(3155,3)(3165,-3)(3175,2)(3185,-1)(3195,4)(3205,-2)(3215,3)(3225,0)(3235,-4)(3245,2)(3255,-1)(3265,3)(3275,-3)(3285,2)(3295,0)(3305,-5)(3315,1)(3325,3)(3335,-2)(3345,4)(3355,0)(3365,2)(3375,-3)(3385,3)(3395,-1)(3405,2)(3415,-5)(3425,1)(3435,3)(3445,0)(3455,2)(3465,4)(3475,3)(3485,2)(3495,12)(3505,10)(3515,18)(3531,24)(3545,30)(3562,38)(3578,46)(3593,65)(3605,75)(3615,82)(3625,95)(3631,110)(3640,124)(3648,115)(3656,100)(3665,80)(3671,68)(3680,55)(3687,52)(3697,48)(3707,47)(3717,45)(3727,43)(3737,40)(3747,42)(3755,38)(3763,40)(3770,36)(3778,5)(3788,-3)(3798,-5)(3808,0)(3818,2)(3828,-1)(3838,5)(3848,2)(3858,0)(3868,3)(3878,-1)(3888,2)(3898,4)(3908,1)(3918,3)(3928,0)(3938,2)(3948,-2)(3958,4)(3968,1)(3978,-2)(3988,3)(3998,0)(4008,5)(4018,-1)(4028,2)(4038,-3)(4048,1)(4058,3)(4068,-4)(4078,2)(4088,0)(4098,3)(4108,-2)(4118,4)(4128,0)};
\pnum{70130}
\end{axis}

\end{tikzpicture}
\end{document}
